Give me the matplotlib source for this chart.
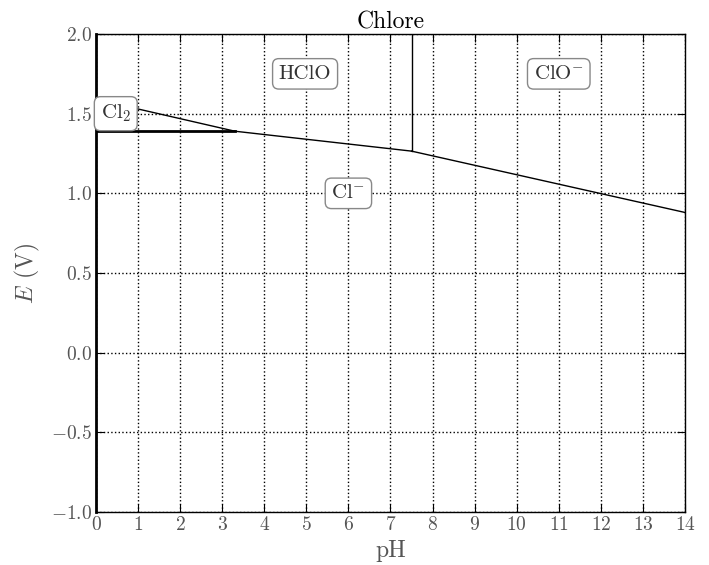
import numpy as np
import matplotlib
matplotlib.use("Agg")
from matplotlib import pyplot as plt

plt.rcParams['font.family'] = 'serif'
plt.rcParams['font.serif'] = ['cmr10', 'DejaVu Serif']
plt.rcParams['mathtext.fontset'] = 'cm'
plt.rcParams['axes.formatter.use_mathtext'] = True

# frontieres du diagramme E-pH du chlore
ph_cl2 = [0.0, 3.3]          # HClO / Cl2
e_cl2 = [1.59, 1.39]
ph_cl2_cl = [0.0, 3.3]       # Cl2 / Cl-
e_cl2_cl = [1.39, 1.39]
ph_hclo = [3.3, 7.5]         # HClO / Cl-
e_hclo = [1.39, 1.265]
ph_clo = [7.5, 14.0]         # ClO- / Cl-
e_clo = [1.265, 0.88]
ph_pka = [7.5, 7.5]          # HClO / ClO-
e_pka = [1.265, 2.0]

labels = ['Cl$_2$', 'HClO', 'ClO$^{-}$', 'Cl$^{-}$']
label_ph = [0.47, 4.97, 11.0, 6.0]
label_e = [1.50, 1.75, 1.75, 1.0]

fig = plt.figure(figsize=(7.09, 5.65), dpi=100)
ax = fig.add_axes([0.1354, 0.0938, 0.8307, 0.846])

ax.plot(ph_cl2, e_cl2, color='black', lw=1)
ax.plot(ph_cl2_cl, e_cl2_cl, color='black', lw=2)
ax.plot(ph_hclo, e_hclo, color='black', lw=1)
ax.plot(ph_clo, e_clo, color='black', lw=1)
ax.plot(ph_pka, e_pka, color='black', lw=1)

box = dict(boxstyle='round,pad=0.3', facecolor='white', edgecolor='#888888', lw=1)
for lab, x, y in zip(labels, label_ph, label_e):
    ax.text(x, y, lab, fontsize=15, ha='center', va='center', bbox=box, color='#333333')

ax.set_xlim(0, 14)
ax.set_ylim(-1, 2)
ax.set_xticks(np.arange(0, 15, 1))
ax.set_yticks(np.arange(-1.0, 2.01, 0.5))
ax.yaxis.set_major_formatter(matplotlib.ticker.FormatStrFormatter('$%.1f$'))
ax.xaxis.set_major_formatter(matplotlib.ticker.FormatStrFormatter('$%d$'))
ax.grid(True, color='black', linestyle=':', lw=1)
ax.tick_params(direction='in', top=True, right=True, length=6, labelsize=14,
               labelcolor='#555555', pad=3)
ax.spines['left'].set_linewidth(2)
for s in ['top', 'right', 'bottom']:
    ax.spines[s].set_linewidth(1)

ax.set_title('Chlore', fontsize=17, pad=4)
ax.set_xlabel('pH', fontsize=17, color='#555555', labelpad=4)
ax.set_ylabel('$E$ (V)', fontsize=17, color='#555555', labelpad=6)

fig.savefig('out.png', dpi=100, facecolor='white')
